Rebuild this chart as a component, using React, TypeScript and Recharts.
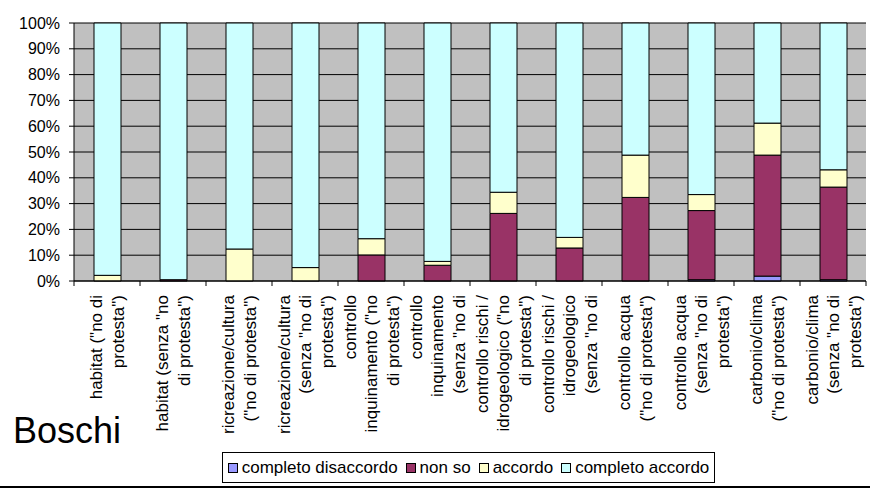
import { BarChart, Bar, XAxis, YAxis, CartesianGrid } from "recharts"

// Category labels, already split into the lines shown under each bar
const categories: string[][] = [
  ['habitat ("no di', 'protesta")'],
  ['habitat (senza "no', 'di protesta")'],
  ["ricreazione/cultura", '("no di protesta")'],
  ["ricreazione/cultura", '(senza "no di', 'protesta")'],
  ["controllo", 'inquinamento ("no', 'di protesta")'],
  ["controllo", "inquinamento", '(senza "no di'],
  ["controllo rischi /", 'idrogeologico ("no', 'di protesta")'],
  ["controllo rischi /", "idrogeologico", '(senza "no di'],
  ["controllo acqua", '("no di protesta")'],
  ["controllo acqua", '(senza "no di', 'protesta")'],
  ["carbonio/clima", '("no di protesta")'],
  ["carbonio/clima", '(senza "no di', 'protesta")'],
]

// Share of answers (%) per category
const completoDisaccordo = [0, 0, 0, 0, 0, 0, 0, 0, 0, 0.5, 1.9, 0.5]
const nonSo = [0, 0.5, 0, 0, 10.1, 6.1, 26.2, 12.8, 32.4, 26.8, 46.9, 35.9]
const accordo = [2.2, 0, 12.4, 5.2, 6.3, 1.5, 8.2, 4.1, 16.4, 6.2, 12.4, 6.7]
const completoAccordo = [97.8, 99.5, 87.6, 94.8, 83.6, 92.4, 65.6, 83.1, 51.2, 66.5, 38.8, 56.9]

const yTicks = [0, 0.1, 0.2, 0.3, 0.4, 0.5, 0.6, 0.7, 0.8, 0.9, 1]

const series = [
  { key: "completoDisaccordo", name: "completo disaccordo", color: "#9999FF" },
  { key: "nonSo", name: "non so", color: "#993366" },
  { key: "accordo", name: "accordo", color: "#FFFFCC" },
  { key: "completoAccordo", name: "completo accordo", color: "#CCFFFF" },
]

const data = categories.map((lines, i) => ({
  name: lines.join(" "),
  lines,
  completoDisaccordo: completoDisaccordo[i],
  nonSo: nonSo[i],
  accordo: accordo[i],
  completoAccordo: completoAccordo[i],
}))

const WIDTH = 870
const HEIGHT = 489
const MARGIN = { top: 23, right: 4, left: 0, bottom: 0 }
const Y_AXIS_W = 74
const X_AXIS_H = 208
const BAND = (WIDTH - MARGIN.right - Y_AXIS_W) / categories.length
const FONT = '"Liberation Sans", Arial, sans-serif'

// Multi-line rotated label, plus tick marks on the category boundaries
function CategoryTick(props: any) {
  const { x, y, payload, index } = props
  const lines: string[] = data[payload.index ?? index]?.lines ?? [String(payload.value)]
  const n = lines.length
  const i = payload.index ?? index
  return (
    <g>
      <line x1={x - BAND / 2} x2={x - BAND / 2} y1={y} y2={y + 5} stroke="#000" />
      {i === categories.length - 1 && (
        <line x1={x + BAND / 2} x2={x + BAND / 2} y1={y} y2={y + 5} stroke="#000" />
      )}
      <g transform={`translate(${x},${y + 14}) rotate(-90)`}>
        <text textAnchor="end" fontSize={17} fontFamily={FONT} fill="#000">
          {lines.map((l, k) => (
            <tspan key={k} x={0} y={(k - (n - 1) / 2) * 21.5 + 6}>
              {l}
            </tspan>
          ))}
        </text>
      </g>
    </g>
  )
}

export default function App() {
  return (
    <div
      style={{
        position: "absolute",
        left: 0,
        top: 0,
        width: WIDTH,
        height: HEIGHT,
        background: "#fff",
        fontFamily: FONT,
      }}
    >
      <BarChart
        width={WIDTH}
        height={HEIGHT}
        data={data}
        stackOffset="expand"
        margin={MARGIN}
      >
        <CartesianGrid
          vertical={false}
          stroke="#000"
          fill="#C0C0C0"
          fillOpacity={1}
          horizontalPoints={undefined}
        />
        <XAxis
          dataKey="name"
          height={X_AXIS_H}
          interval={0}
          tickLine={false}
          tickSize={0}
          tickMargin={0}
          axisLine={{ stroke: "#000" }}
          tick={<CategoryTick />}
        />
        <YAxis
          width={Y_AXIS_W}
          domain={[0, 1]}
          ticks={yTicks}
          tickFormatter={(v: number) => `${Math.round(v * 100)}%`}
          tickSize={5}
          tickMargin={9}
          axisLine={{ stroke: "#000" }}
          tickLine={{ stroke: "#000" }}
          tick={{ fill: "#000", fontSize: 16, fontFamily: FONT }}
          interval={0}
        />
        {series.map((s) => (
          <Bar
            key={s.key}
            dataKey={s.key}
            name={s.name}
            stackId="a"
            fill={s.color}
            stroke="#000"
            strokeWidth={1}
            barSize={27}
            isAnimationActive={false}
          />
        ))}
      </BarChart>

      <svg
        width={WIDTH}
        height={HEIGHT}
        style={{ position: "absolute", left: 0, top: 0, pointerEvents: "none" }}
      >
        <text x={13} y={443} fontSize={36} fontFamily={FONT} fill="#000">
          Boschi
        </text>
        <line x1={0} x2={WIDTH} y1={487} y2={487} stroke="#000" strokeWidth={2} />
      </svg>

      <div
        style={{
          position: "absolute",
          left: 222,
          top: 452,
          width: 493,
          height: 31,
          boxSizing: "border-box",
          border: "1px solid #000",
          background: "#fff",
          display: "flex",
          alignItems: "center",
          justifyContent: "center",
          fontSize: 17,
          whiteSpace: "nowrap",
        }}
      >
        {series.map((s, i) => (
          <span
            key={s.key}
            style={{ display: "flex", alignItems: "center", marginLeft: i === 0 ? 0 : 8 }}
          >
            <span
              style={{
                display: "inline-block",
                width: 8,
                height: 8,
                border: "1px solid #000",
                background: s.color,
                marginRight: 4,
              }}
            />
            {s.name}
          </span>
        ))}
      </div>
    </div>
  )
}
